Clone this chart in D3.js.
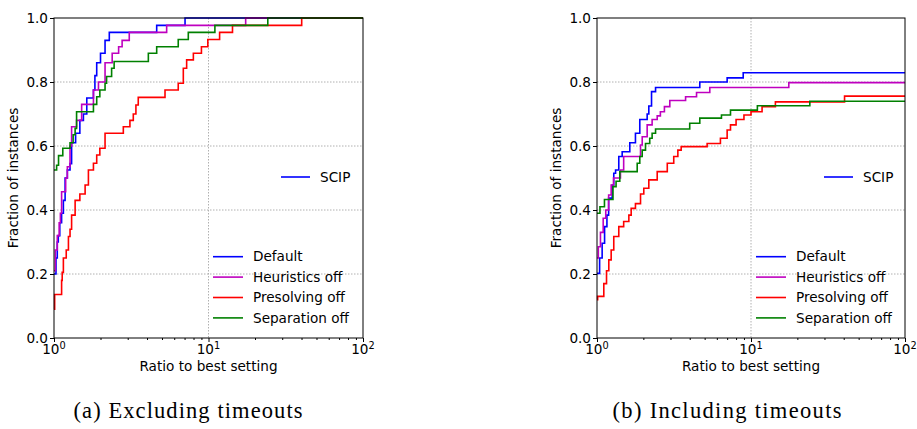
<!DOCTYPE html>
<html><head><meta charset="utf-8">
<script src="https://cdn.jsdelivr.net/npm/d3@7"></script>
<style>body{margin:0;background:#fff}svg{display:block}text{font-family:"DejaVu Sans",sans-serif}text.cap{font-family:"Liberation Serif",serif}</style>
</head><body>
<svg id="c" width="917" height="429"></svg>
<script>
// ---- data: [ratio to best setting, fraction of instances] ----
const seriesNames = ["Default","Heuristics off","Presolving off","Separation off"];
const seriesColors = ["#0000ff","#bf00bf","#ff0000","#008000"];
const yTicks = [0,0.2,0.4,0.6,0.8,1.0];
const xMajor = [1,10,100];
const xLabelExp = ["0","1","2"];
const captions = ["(a)  Excluding timeouts","(b)  Including timeouts"];

const exDefault = [[1,0.2],[1.03,0.25],[1.05,0.3],[1.066,0.32],[1.09,0.36],[1.12,0.39],[1.15,0.43],[1.18,0.5],[1.22,0.525],[1.27,0.545],[1.3,0.61],[1.38,0.64],[1.47,0.68],[1.55,0.7],[1.63,0.75],[1.8,0.775],[1.84,0.82],[1.89,0.86],[2.0,0.89],[2.14,0.93],[2.28,0.955],[4.62,0.977],[7.05,1.0],[100,1.0]];
const exHeur = [[1,0.21],[1.02,0.275],[1.05,0.32],[1.08,0.36],[1.1,0.39],[1.12,0.457],[1.19,0.5],[1.22,0.535],[1.27,0.6],[1.3,0.66],[1.4,0.68],[1.51,0.73],[1.8,0.775],[1.94,0.8],[2.14,0.86],[2.38,0.89],[2.62,0.91],[2.76,0.93],[3.07,0.955],[5.36,0.977],[17.4,1.0],[100,1.0]];
const exPresolve = [[1,0.09],[1.01,0.136],[1.12,0.18],[1.13,0.205],[1.15,0.25],[1.2,0.275],[1.24,0.317],[1.27,0.34],[1.3,0.384],[1.37,0.43],[1.47,0.45],[1.59,0.478],[1.67,0.525],[1.8,0.546],[1.89,0.572],[1.98,0.593],[2.14,0.64],[2.81,0.66],[3.1,0.68],[3.26,0.7],[3.39,0.728],[3.51,0.752],[5.23,0.775],[6.37,0.796],[6.87,0.843],[7.22,0.869],[7.98,0.89],[9.0,0.91],[9.9,0.933],[11.8,0.955],[14.3,0.977],[40.1,1.0],[100,1.0]];
const exSeparate = [[1,0.525],[1.04,0.54],[1.07,0.57],[1.14,0.593],[1.27,0.61],[1.33,0.635],[1.37,0.655],[1.4,0.707],[1.8,0.73],[1.89,0.754],[1.98,0.775],[2.14,0.796],[2.19,0.817],[2.36,0.843],[2.45,0.864],[4.08,0.89],[4.62,0.91],[6.37,0.933],[7.4,0.955],[11.0,0.977],[24.2,1.0],[100,1.0]];

const inDefault = [[1,0.202],[1.04,0.25],[1.08,0.296],[1.12,0.348],[1.16,0.384],[1.19,0.437],[1.255,0.478],[1.285,0.515],[1.32,0.525],[1.385,0.567],[1.457,0.582],[1.633,0.61],[1.777,0.64],[1.896,0.683],[2.117,0.7],[2.17,0.725],[2.26,0.77],[2.4,0.783],[4.65,0.8],[7.0,0.813],[8.9,0.829],[100,0.829]];
const inHeur = [[1,0.25],[1.02,0.285],[1.053,0.33],[1.097,0.374],[1.14,0.4],[1.19,0.447],[1.236,0.478],[1.28,0.5],[1.42,0.525],[1.49,0.567],[1.917,0.603],[1.966,0.629],[2.117,0.666],[2.28,0.683],[2.46,0.694],[2.58,0.707],[2.74,0.723],[2.97,0.742],[3.76,0.754],[4.43,0.767],[5.4,0.783],[17.6,0.798],[100,0.798]];
const inPresolve = [[1,0.12],[1.01,0.13],[1.107,0.17],[1.153,0.21],[1.193,0.244],[1.236,0.275],[1.285,0.317],[1.385,0.348],[1.49,0.364],[1.61,0.384],[1.667,0.405],[1.777,0.42],[1.917,0.45],[2.013,0.468],[2.17,0.494],[2.46,0.52],[2.86,0.546],[3.15,0.567],[3.35,0.587],[3.52,0.598],[5.19,0.608],[6.33,0.624],[7.0,0.65],[7.36,0.666],[8.0,0.683],[9.0,0.697],[10.0,0.707],[11.8,0.723],[14.4,0.738],[40.5,0.756],[100,0.756]];
const inSeparate = [[1,0.39],[1.045,0.41],[1.118,0.433],[1.27,0.473],[1.33,0.49],[1.406,0.52],[1.824,0.546],[1.896,0.567],[1.966,0.587],[2.065,0.608],[2.2,0.624],[2.28,0.64],[2.4,0.653],[4.0,0.671],[4.65,0.687],[6.43,0.697],[7.36,0.712],[11.0,0.726],[24.1,0.74],[100,0.74]];

const panels = [
  {x0:54, x1:363, series:[exDefault,exHeur,exPresolve,exSeparate], capX:188},
  {x0:597, x1:905, series:[inDefault,inHeur,inPresolve,inSeparate], capX:727}
];

const svg = d3.select("#c");
const yTop = 18, yBot = 338;
const FS = 13.6;

panels.forEach((p, pi) => {
  const x = d3.scaleLog().domain([1,100]).range([p.x0, p.x1]);
  const y = d3.scaleLinear().domain([0,1]).range([yBot, yTop]);
  const g = svg.append("g");

  // grid
  const grid = g.append("g").attr("stroke","#b0b0b0").attr("stroke-width",1).attr("stroke-dasharray","1.5,1.5");
  yTicks.slice(1,-1).forEach(t => grid.append("line").attr("x1",p.x0).attr("x2",p.x1).attr("y1",y(t)).attr("y2",y(t)));
  grid.append("line").attr("x1",x(10)).attr("x2",x(10)).attr("y1",yTop).attr("y2",yBot);

  // curves
  const line = d3.line().x(d => x(d[0])).y(d => y(d[1])).curve(d3.curveStepAfter);
  p.series.forEach((s, i) => {
    g.append("path").datum(s).attr("d", line).attr("fill","none")
      .attr("stroke", seriesColors[i]).attr("stroke-width",1.6);
  });

  // frame
  g.append("rect").attr("x",p.x0).attr("y",yTop).attr("width",p.x1-p.x0).attr("height",yBot-yTop)
    .attr("fill","none").attr("stroke","#000").attr("stroke-width",1);

  // y axis
  const ya = g.append("g").attr("transform",`translate(${p.x0},0)`)
    .call(d3.axisLeft(y).tickValues(yTicks).tickFormat(d3.format(".1f")).tickSize(4).tickPadding(2));
  ya.select(".domain").remove();
  ya.selectAll("text").attr("font-size",FS).attr("fill","#000");

  // x axis minor + major ticks
  const minor = [];
  for (let d=1; d<100; d*=10) for (let k=2;k<10;k++) minor.push(d*k);
  const xa = g.append("g").attr("transform",`translate(0,${yBot})`)
    .call(d3.axisBottom(x).tickValues(minor).tickFormat("").tickSize(2));
  xa.select(".domain").remove();
  const xm = g.append("g").attr("transform",`translate(0,${yBot})`)
    .call(d3.axisBottom(x).tickValues(xMajor).tickFormat("").tickSize(4));
  xm.select(".domain").remove();
  xMajor.forEach((v, i) => {
    const t = g.append("text").attr("x", x(v)).attr("y", 354).attr("text-anchor","middle")
      .attr("font-size",FS).attr("fill","#000");
    t.append("tspan").text("10");
    t.append("tspan").attr("dy",-5).attr("font-size",FS*0.72).text(xLabelExp[i]);
  });

  // axis titles
  g.append("text").attr("x",(p.x0+p.x1)/2).attr("y",371).attr("text-anchor","middle")
    .attr("font-size",FS).text("Ratio to best setting");
  g.append("text").attr("transform",`translate(${p.x0-36},178) rotate(-90)`).attr("text-anchor","middle")
    .attr("font-size",FS).text("Fraction of instances");

  // legend
  const lx = p.x0 + 159;
  g.append("line").attr("x1",p.x0+227).attr("x2",p.x0+256).attr("y1",177).attr("y2",177)
    .attr("stroke",seriesColors[0]).attr("stroke-width",1.6);
  g.append("text").attr("x",p.x0+266).attr("y",181.5).attr("font-size",FS).text("SCIP");
  seriesNames.forEach((n, i) => {
    const ly = 256.7 + i*20.4;
    g.append("line").attr("x1",lx).attr("x2",lx+30).attr("y1",ly).attr("y2",ly)
      .attr("stroke",seriesColors[i]).attr("stroke-width",1.6);
    g.append("text").attr("x",lx+40).attr("y",ly+4.7).attr("font-size",FS).text(n);
  });

  // caption
  svg.append("text").attr("class","cap").attr("x",p.capX).attr("y",418).attr("text-anchor","middle")
    .attr("font-size",22.5).attr("textLength",229).attr("lengthAdjust","spacing").text(captions[pi]);
});
</script>
</body></html>
